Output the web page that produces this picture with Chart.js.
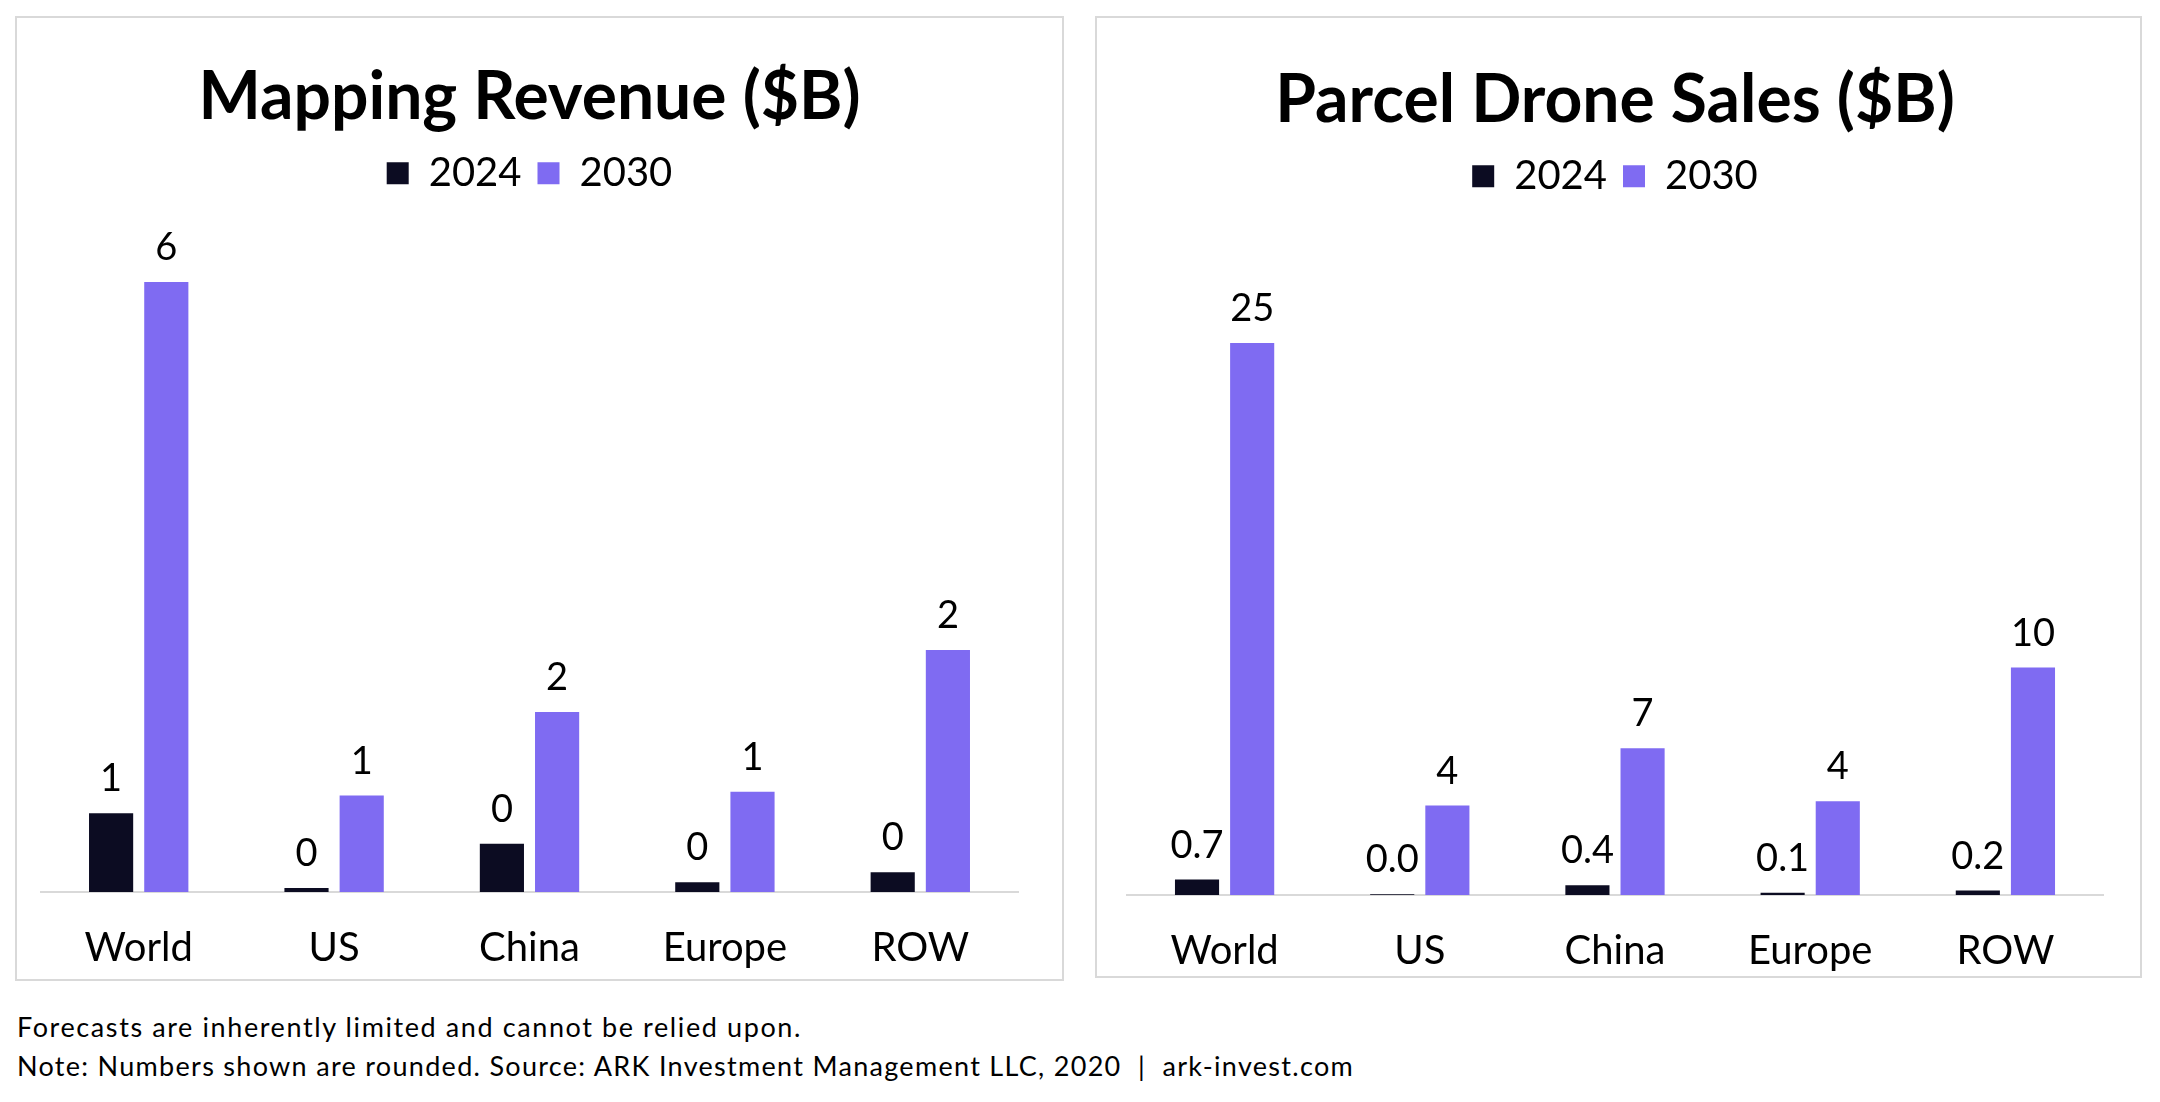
<!DOCTYPE html>
<html>
<head>
<meta charset="utf-8">
<script src="https://cdn.jsdelivr.net/npm/chart.js@4"></script>
<style>
  body { margin: 0; width: 2160px; height: 1102px; background: #fff; position: relative; font-family: Lato, sans-serif; overflow: hidden; }
  .panel { position: absolute; border: 2px solid #d9d9d9; background: #fff; }
  #left-panel { left: 15px; top: 16px; width: 1045px; height: 961px; }
  #right-panel { left: 1095px; top: 16px; width: 1043px; height: 958px; }
  .note { position: absolute; left: 17px; font-size: 27px; line-height: 39px; letter-spacing: 1.3px; color: #000; white-space: nowrap; }
</style>
</head>
<body>
<div class="panel" id="left-panel"><canvas id="mappingChart" width="1045" height="961"></canvas></div>
<div class="panel" id="right-panel"><canvas id="droneChart" width="1043" height="958"></canvas></div>
<div class="note" style="top: 1007px; letter-spacing: 1.6px;">Forecasts are inherently limited and cannot be relied upon.</div>
<div class="note" style="top: 1046px;">Note: Numbers shown are rounded. Source: ARK Investment Management LLC, 2020 &nbsp;| &nbsp;ark-invest.com</div>

<script>
// Regions on the x axis
const regions = ['World', 'US', 'China', 'Europe', 'ROW'];

// Mapping revenue ($B)
const mapping2024 = [0.8, 0.04, 0.49, 0.1, 0.2];
const mapping2030 = [6.2, 0.98, 1.83, 1.02, 2.46];

// Parcel drone sales ($B)
const drone2024 = [0.7, 0.03, 0.44, 0.1, 0.2];
const drone2030 = [25, 4.05, 6.65, 4.25, 10.3];

const DARK = '#0c0c22';
const PURPLE = '#7f6bf2';

// Draw the value above every bar
const valueLabels = {
    id: 'valueLabels',
    afterDatasetsDraw(chart, args, opts) {
        const ctx = chart.ctx;
        ctx.save();
        ctx.font = '38px Lato';
        ctx.fillStyle = '#000';
        ctx.textAlign = 'center';
        ctx.textBaseline = 'alphabetic';
        chart.data.datasets.forEach((ds, i) => {
            const meta = chart.getDatasetMeta(i);
            const digits = opts.decimals[i];
            meta.data.forEach((bar, j) => {
                ctx.fillText(ds.data[j].toFixed(digits), bar.x, bar.y - 22);
            });
        });
        ctx.restore();
    }
};

function makeChart(canvasId, title, values2024, values2030, yMax, decimals, pad) {
    const ctx = document.getElementById(canvasId).getContext('2d');
    return new Chart(ctx, {
        type: 'bar',
        data: {
            labels: regions,
            datasets: [
                { label: '2024', data: values2024, backgroundColor: DARK },
                { label: '2030', data: values2030, backgroundColor: PURPLE }
            ]
        },
        options: {
            responsive: false,
            animation: false,
            devicePixelRatio: 1,
            categoryPercentage: 0.565,
            barPercentage: 0.8,
            layout: { padding: pad },
            scales: {
                x: {
                    grid: { display: false, drawTicks: false },
                    border: { display: true, color: '#d9d9d9', width: 2 },
                    ticks: { color: '#000', font: { family: 'Lato', size: 40, lineHeight: 1 }, padding: 36 }
                },
                y: {
                    display: false,
                    min: 0,
                    max: yMax
                }
            },
            plugins: {
                title: {
                    display: true,
                    text: title,
                    color: '#000',
                    font: { family: 'Lato', size: 66, weight: 'bold' },
                    padding: { top: 40, bottom: 0 }
                },
                legend: {
                    display: true,
                    labels: {
                        color: '#000',
                        font: { family: 'Lato', size: 40 },
                        boxWidth: 22,
                        boxHeight: 22,
                        padding: 16
                    }
                },
                tooltip: { enabled: false },
                valueLabels: { decimals: decimals }
            }
        },
        plugins: [valueLabels]
    });
}

makeChart('mappingChart', 'Mapping Revenue ($B)', mapping2024, mapping2030, 7.0, [0, 0],
    { left: 24, right: 44, top: 0, bottom: -25 });
makeChart('droneChart', 'Parcel Drone Sales ($B)', drone2024, drone2030, 31.2, [1, 0],
    { left: 30, right: 37, top: 3, bottom: -31 });
</script>
</body>
</html>
